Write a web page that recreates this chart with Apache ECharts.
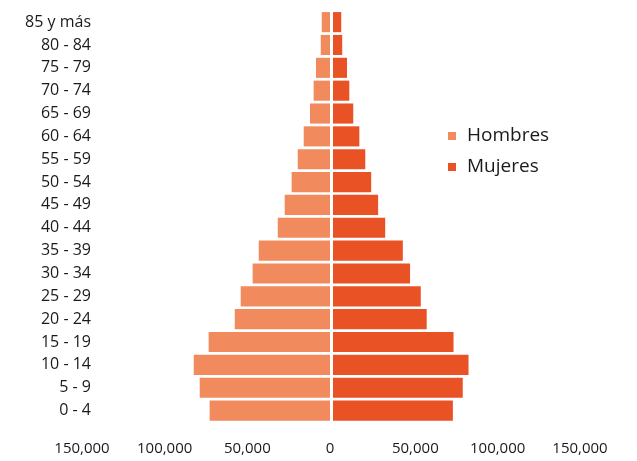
<!DOCTYPE html>
<html>
<head>
<meta charset="utf-8">
<script src="https://cdn.jsdelivr.net/npm/echarts@6/dist/echarts.min.js"></script>
<style>
html,body{margin:0;padding:0;background:#fff;}
#chart{width:637px;height:461px;}
</style>
</head>
<body>
<div id="chart"></div>
<script>
// Age groups, bottom to top
const ageGroups = ['0 - 4','5 - 9','10 - 14','15 - 19','20 - 24','25 - 29','30 - 34','35 - 39','40 - 44','45 - 49','50 - 54','55 - 59','60 - 64','65 - 69','70 - 74','75 - 79','80 - 84','85 y más'];
const hombres = [72800, 78800, 82400, 73400, 57600, 54000, 46800, 43100, 31600, 27400, 23200, 19500, 15900, 12100, 9900, 8500, 5600, 5000];
const mujeres = [72800, 78800, 82300, 73200, 56900, 53300, 46800, 42400, 31700, 27400, 23200, 19600, 16000, 12300, 9900, 8500, 5600, 5000];
const seriesNames = ['Hombres', 'Mujeres'];
const axisTicks = [0, 50000, 100000, 150000];

const FONT = '"Open Sans", sans-serif';
const fmt = v => v.toLocaleString('en-US');

const chart = echarts.init(document.getElementById('chart'), null, {renderer: 'canvas'});
chart.setOption({
  animation: false,
  backgroundColor: '#ffffff',
  color: ['#F18B5E', '#E85224'],
  legend: {
    orient: 'vertical',
    left: 443,
    top: 120,
    itemWidth: 8,
    itemHeight: 8,
    itemGap: 9,
    icon: 'rect',
    data: seriesNames,
    textStyle: {fontFamily: FONT, fontSize: 19, color: '#1a1a1a', lineHeight: 22, padding: [0, 0, 0, 6]}
  },
  grid: [
    {left: 82, width: 248, top: 10.7, height: 411.3},
    {left: 333, width: 247, top: 10.7, height: 411.3}
  ],
  xAxis: [
    {
      gridIndex: 0, type: 'value', inverse: true, min: axisTicks[0], max: axisTicks[axisTicks.length - 1], interval: 50000,
      axisLine: {show: false}, axisTick: {show: false}, splitLine: {show: false},
      axisLabel: {margin: 19, fontFamily: FONT, fontSize: 15, color: '#1a1a1a', formatter: v => fmt(v)}
    },
    {
      gridIndex: 1, type: 'value', min: axisTicks[0], max: axisTicks[axisTicks.length - 1], interval: 50000,
      axisLine: {show: false}, axisTick: {show: false}, splitLine: {show: false},
      axisLabel: {margin: 19, fontFamily: FONT, fontSize: 15, color: '#1a1a1a', formatter: v => v === 0 ? '' : fmt(v)}
    }
  ],
  yAxis: [
    {
      gridIndex: 0, type: 'category', data: ageGroups, position: 'left',
      axisLine: {show: false}, axisTick: {show: false},
      axisLabel: {margin: -9, align: 'right', fontFamily: FONT, fontSize: 16, color: '#1a1a1a'}
    },
    {
      gridIndex: 1, type: 'category', data: ageGroups,
      axisLine: {show: false}, axisTick: {show: false}, axisLabel: {show: false}
    }
  ],
  series: [
    {name: seriesNames[0], type: 'bar', xAxisIndex: 0, yAxisIndex: 0, data: hombres, barCategoryGap: '12%'},
    {name: seriesNames[1], type: 'bar', xAxisIndex: 1, yAxisIndex: 1, data: mujeres, barCategoryGap: '12%'}
  ]
});
</script>
</body>
</html>
